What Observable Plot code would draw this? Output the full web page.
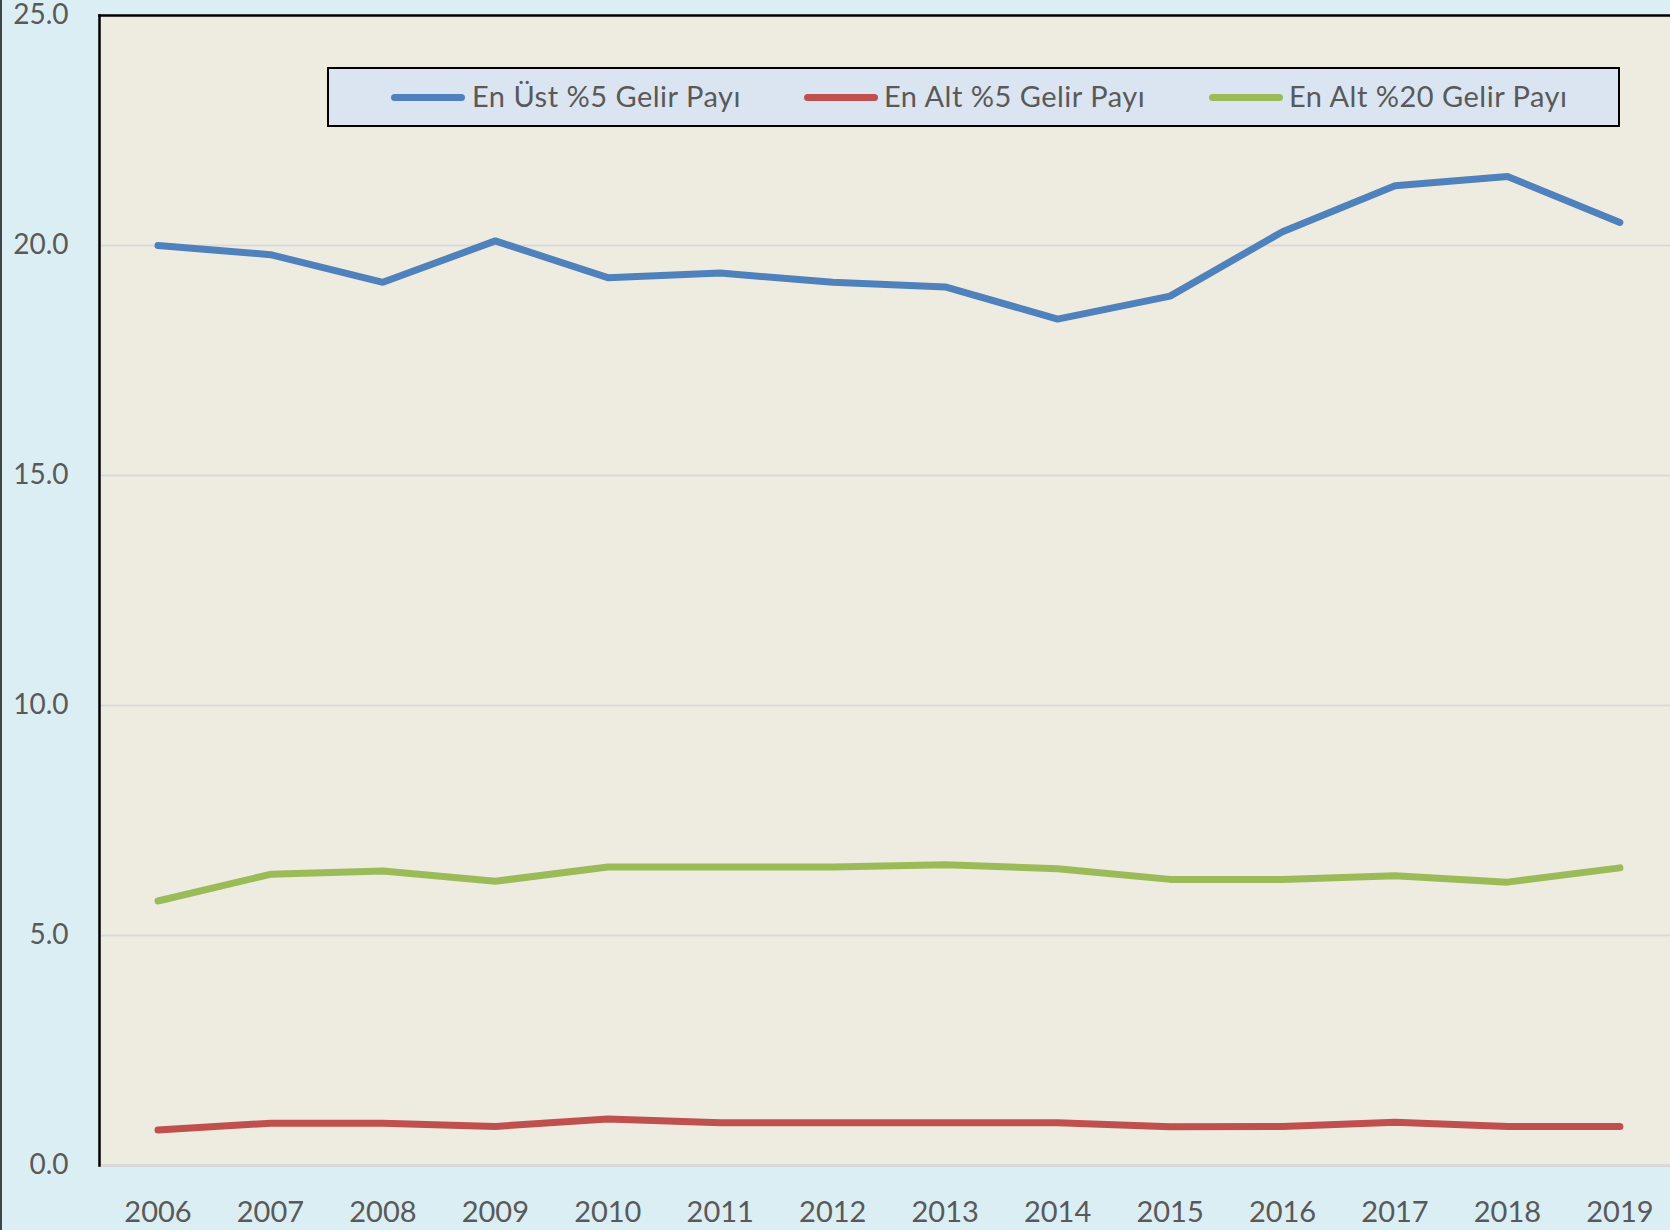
<!DOCTYPE html>
<html>
<head>
<meta charset="utf-8">
<script src="https://cdn.jsdelivr.net/npm/d3@7"></script>
<script src="https://cdn.jsdelivr.net/npm/@observablehq/plot@0.6"></script>
<style>
  html, body { margin: 0; padding: 0; background: #DBEEF4; }
  #wrap { position: relative; width: 1670px; height: 1230px; overflow: hidden; font-family: Lato, "Open Sans", sans-serif; }
  #edge { position: absolute; left: 0; top: 0; width: 2px; height: 1230px; background: #3d4548; }
  #legend { position: absolute; left: 327px; top: 67px; width: 1289px; height: 56px; border: 2.5px solid #000; background: #DBE5F1; }
  .sw { position: absolute; top: 25px; height: 7px; border-radius: 4px; }
  .lt { position: absolute; top: 9px; font-size: 29px; letter-spacing: 0.5px; line-height: 36px; color: #595959; white-space: nowrap; }
</style>
</head>
<body>
<div id="wrap"><div id="legend"></div><div id="edge"></div></div>
<script>
const years = [2006, 2007, 2008, 2009, 2010, 2011, 2012, 2013, 2014, 2015, 2016, 2017, 2018, 2019];
const seriesNames = ["En Üst %5 Gelir Payı", "En Alt %5 Gelir Payı", "En Alt %20 Gelir Payı"];
const top5 =     [20.0, 19.8, 19.2, 20.1, 19.3, 19.4, 19.2, 19.1, 18.4, 18.9, 20.3, 21.3, 21.5, 20.5];
const bottom5 =  [0.77, 0.92, 0.92, 0.85, 1.01, 0.93, 0.93, 0.93, 0.93, 0.84, 0.85, 0.94, 0.85, 0.85];
const bottom20 = [5.75, 6.33, 6.40, 6.18, 6.49, 6.49, 6.49, 6.54, 6.45, 6.22, 6.22, 6.30, 6.16, 6.47];
const seriesColors = ["#4F81BD", "#C0504D", "#9BBB59"];
const yTicks = [0, 5, 10, 15, 20, 25];

const seriesValues = [top5, bottom5, bottom20];
const rows = [];
seriesNames.forEach((name, s) => years.forEach((yr, i) => rows.push({series: name, year: yr, value: seriesValues[s][i]})));

const chart = Plot.plot({
  width: 1670,
  height: 1230,
  marginLeft: 99,
  marginRight: 0,
  marginTop: 15,
  marginBottom: 65,
  style: {background: "#DBEEF4", fontFamily: "Lato, 'Open Sans', sans-serif", overflow: "visible"},
  x: {type: "linear", domain: [2005.48, 2019.45]},
  y: {domain: [0, 25]},
  color: {domain: seriesNames, range: seriesColors},
  marks: [
    Plot.frame({fill: "#EEECE1", stroke: null}),
    Plot.ruleY(yTicks.filter(d => d > 0 && d < 25), {stroke: "#D9D9D9", strokeWidth: 2}),
    Plot.frame({anchor: "bottom", stroke: "#D9D9D9", strokeWidth: 3}),
    Plot.frame({anchor: "left", stroke: "#000", strokeWidth: 2.5}),
    Plot.frame({anchor: "top", stroke: "#000", strokeWidth: 2.5}),
    Plot.axisY(yTicks, {tickSize: 0, tickPadding: 31, tickFormat: d3.format(".1f"), fontSize: 28, color: "#595959", label: null}),
    Plot.axisX(years, {tickSize: 0, tickPadding: 36, tickFormat: "d", fontSize: 29, color: "#595959", label: null}),
    Plot.line(rows, {x: "year", y: "value", z: "series", stroke: "series", strokeWidth: 7, strokeLinecap: "round", strokeLinejoin: "miter"})
  ]
});
const wrap = document.getElementById("wrap");
wrap.insertBefore(chart, wrap.firstChild);

// legend
const legend = document.getElementById("legend");
const swatchLeft = [62, 475, 880];
const textLeft = [143, 555, 960];
seriesNames.forEach((name, i) => {
  const sw = document.createElement("div");
  sw.className = "sw";
  sw.style.left = swatchLeft[i] + "px";
  sw.style.width = "74px";
  sw.style.background = seriesColors[i];
  legend.appendChild(sw);
  const t = document.createElement("div");
  t.className = "lt";
  t.style.left = textLeft[i] + "px";
  t.textContent = name;
  legend.appendChild(t);
});
</script>
</body>
</html>
